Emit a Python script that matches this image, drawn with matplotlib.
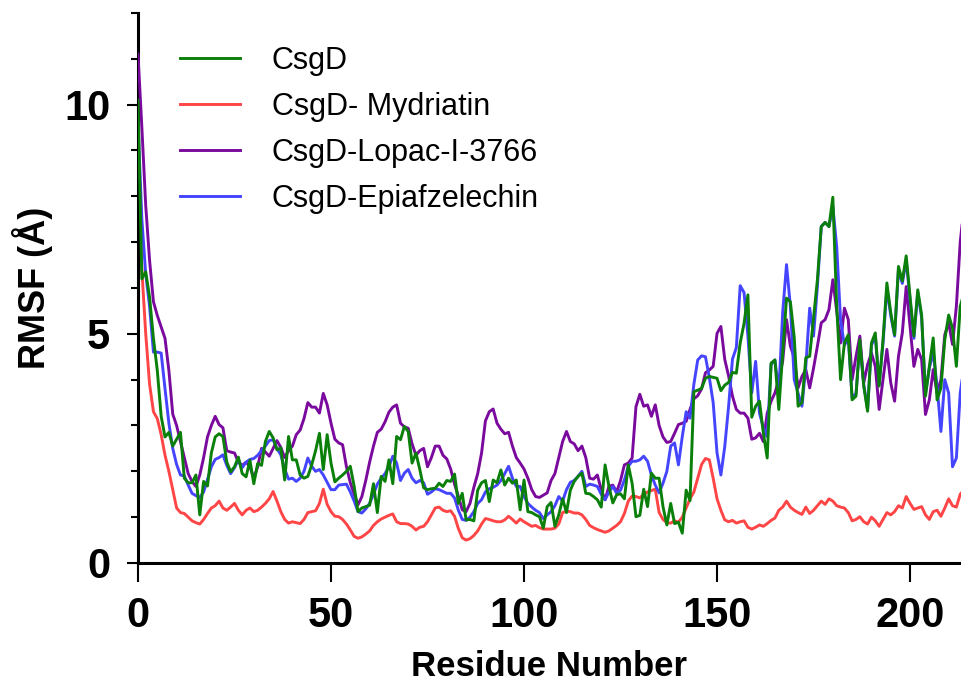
import matplotlib.pyplot as plt
from matplotlib.ticker import MultipleLocator

# RMSF per residue
residues = list(range(215))

csgd = [10.1, 6.2, 6.35, 5.8, 4.9, 4.2, 3.2, 2.75, 2.85, 2.55,
        2.7, 2.85, 1.85, 1.75, 1.75, 1.92, 1.05, 1.78, 1.68, 2.4,
        2.75, 2.82, 2.76, 2.2, 1.99, 2.1, 2.31, 1.95, 1.88, 2.24,
        1.73, 2.17, 2.13, 2.65, 2.87, 2.73, 2.47, 2.51, 1.81, 2.76,
        2.25, 2.25, 1.92, 1.85, 1.89, 2.14, 2.45, 2.83, 2.04, 2.8,
        2.18, 1.77, 1.85, 1.92, 2.0, 2.11, 1.67, 1.12, 1.2, 1.23,
        1.26, 1.73, 1.1, 1.89, 1.78, 2.25, 1.73, 2.76, 2.69, 2.98,
        2.87, 2.18, 2.4, 2.04, 1.64, 1.6, 1.62, 1.63, 1.74, 1.67,
        1.8, 1.78, 1.94, 1.3, 1.52, 0.94, 0.95, 0.92, 1.59, 1.75,
        1.8, 1.34, 1.81, 1.75, 2.03, 1.7, 1.85, 1.74, 1.81, 1.16,
        1.81, 1.12, 1.1, 1.05, 1.01, 0.76, 1.23, 1.32, 0.8, 1.05,
        1.4, 1.1, 1.59, 1.78, 1.89, 1.96, 1.52, 1.51, 1.45, 1.38,
        1.22, 2.14, 1.67, 1.31, 1.49, 1.51, 1.4, 2.14, 1.74, 1.01,
        1.04, 1.61, 1.23, 1.96, 1.85, 1.85, 1.23, 0.83, 1.3, 0.86,
        0.89, 0.65, 1.59, 1.36, 3.74, 3.77, 3.81, 4.03, 4.07, 4.05,
        4.03, 3.76, 3.88, 3.94, 4.16, 4.14, 4.8, 5.23, 5.85, 3.18,
        3.42, 3.53, 2.83, 2.29, 4.36, 4.43, 3.35, 4.55, 5.78, 5.7,
        4.92, 3.42, 3.5, 4.48, 4.51, 5.34, 6.18, 7.34, 7.43, 7.34,
        7.98, 5.6, 4.0, 4.8, 4.98, 3.56, 3.64, 4.87, 3.86, 3.31,
        4.8, 5.02, 3.86, 4.87, 6.11, 5.46, 4.98, 6.47, 6.15, 6.7,
        5.81, 4.95, 5.96, 5.41, 3.64, 4.29, 4.91, 3.56, 3.82, 4.87,
        5.41, 5.12, 4.29, 5.6, 5.9]

mydriatin = [9.0, 6.4, 5.0, 3.9, 3.3, 3.15, 2.8, 2.35, 2.0, 1.6,
             1.2, 1.1, 1.08, 1.0, 0.92, 0.88, 0.85, 0.95, 1.08, 1.2,
             1.25, 1.35, 1.2, 1.15, 1.22, 1.3, 1.15, 1.05, 1.15, 1.2,
             1.12, 1.15, 1.22, 1.3, 1.4, 1.56, 1.35, 1.12, 0.95, 0.87,
             0.9, 0.88, 0.86, 0.95, 1.1, 1.12, 1.14, 1.3, 1.61, 1.28,
             1.12, 1.02, 1.01, 0.95, 0.85, 0.72, 0.58, 0.54, 0.57, 0.63,
             0.7, 0.82, 0.9, 0.96, 1.0, 1.04, 1.07, 0.9, 0.86, 0.86,
             0.85, 0.8, 0.72, 0.78, 0.8, 0.9, 1.05, 1.2, 1.22, 1.15,
             1.12, 1.14, 1.02, 0.75, 0.55, 0.5, 0.53, 0.6, 0.7, 0.85,
             0.97, 0.95, 0.92, 0.9, 0.9, 0.94, 1.02, 0.95, 0.87, 0.96,
             0.9, 0.85, 0.8, 0.82, 0.77, 0.74, 0.74, 0.74, 0.76, 0.85,
             1.1, 1.13, 1.12, 1.09, 1.09, 1.05, 0.95, 0.82, 0.77, 0.73,
             0.7, 0.67, 0.7, 0.76, 0.82, 0.9, 1.08, 1.35, 1.46, 1.45,
             1.42, 1.5, 1.55, 1.58, 1.61, 1.1, 0.95, 0.88, 0.87, 0.92,
             0.89, 1.0, 1.2, 1.4, 1.55, 1.85, 2.15, 2.28, 2.25, 1.85,
             1.4, 1.15, 0.94, 0.9, 0.93, 0.87, 0.9, 0.92, 0.78, 0.74,
             0.78, 0.83, 0.8, 0.86, 0.93, 0.98, 1.15, 1.22, 1.35, 1.22,
             1.15, 1.1, 1.06, 1.22, 1.08, 1.15, 1.25, 1.35, 1.28, 1.4,
             1.35, 1.25, 1.22, 1.2, 1.1, 0.92, 0.95, 1.01, 0.9, 0.85,
             1.0, 0.92, 0.8, 0.95, 1.1, 1.05, 1.12, 1.25, 1.2, 1.45,
             1.3, 1.17, 1.2, 1.23, 1.05, 0.95, 1.12, 1.15, 1.02, 1.2,
             1.4, 1.25, 1.22, 1.5, 1.6]

lopac = [11.1, 9.5, 7.8, 6.6, 5.7, 5.4, 5.15, 4.9, 4.2, 3.25,
         3.0, 2.65, 2.3, 1.95, 1.78, 1.67, 1.92, 2.3, 2.75, 3.0,
         3.2, 3.02, 2.95, 2.45, 2.42, 2.4, 2.2, 2.13, 2.2, 2.1,
         1.85, 2.1, 2.5, 2.42, 2.33, 2.5, 2.67, 2.52, 2.3, 2.45,
         2.55, 2.8, 2.9, 3.15, 3.5, 3.4, 3.4, 3.27, 3.7, 3.45,
         3.05, 2.7, 2.62, 2.58, 2.1, 1.75, 1.5, 1.27, 1.45, 1.8,
         2.2, 2.55, 2.85, 2.92, 3.08, 3.29, 3.4, 3.45, 3.05, 2.97,
         2.94, 2.6, 2.35, 2.45, 2.5, 2.1, 2.3, 2.55, 2.55, 2.35,
         2.27, 2.05, 1.72, 1.45, 1.16, 1.12, 1.3, 1.65, 1.95, 2.4,
         3.1, 3.3, 3.36, 3.05, 2.92, 2.82, 2.85, 2.55, 2.3, 2.18,
         2.05, 1.85, 1.6, 1.45, 1.43, 1.48, 1.53, 1.8, 1.95, 2.3,
         2.65, 2.87, 2.65, 2.6, 2.45, 2.55, 2.3, 1.85, 1.83, 1.92,
         1.6, 1.38, 1.67, 1.7, 1.55, 1.8, 2.14, 2.18, 2.29, 3.41,
         3.68, 3.42, 3.45, 3.2, 3.45, 3.0, 2.75, 2.63, 2.65, 2.83,
         3.02, 3.05, 3.09, 3.35, 3.58, 3.65, 3.8, 4.15, 4.21, 4.29,
         5.01, 5.16, 4.44, 4.08, 3.64, 3.35, 3.27, 3.27, 3.16, 2.7,
         2.73, 2.83, 2.65, 3.27, 3.53, 3.71, 4.0, 4.4, 5.31, 4.73,
         4.48, 3.82, 4.07, 4.22, 3.82, 4.25, 4.73, 5.24, 5.31, 5.53,
         6.18, 5.5, 4.8, 5.56, 5.31, 4.0, 4.51, 4.95, 3.93, 4.33,
         4.58, 4.29, 3.35, 4.0, 4.66, 3.93, 3.53, 4.51, 5.02, 6.03,
         5.16, 4.29, 4.66, 4.44, 3.24, 3.56, 4.22, 3.71, 4.0, 4.98,
         5.24, 4.77, 5.6, 7.0, 7.8]

epiafzelechin = [9.6, 7.5, 6.3, 5.6, 4.6, 4.6, 4.58, 3.8, 3.05, 2.5,
                 2.15, 1.92, 1.9, 1.7, 1.52, 1.47, 1.43, 1.55, 1.82, 2.1,
                 2.26, 2.3, 2.36, 2.13, 1.95, 2.08, 2.25, 2.08, 2.2, 2.26,
                 2.28, 2.35, 2.45, 2.55, 2.67, 2.69, 2.5, 2.36, 2.05, 1.83,
                 1.85, 1.78, 1.85, 2.0, 2.29, 2.11, 2.0, 2.04, 1.92, 1.76,
                 1.6, 1.6, 1.7, 1.71, 1.72, 1.55, 1.35, 1.12, 1.09, 1.18,
                 1.3, 1.5, 1.72, 1.85, 1.95, 2.1, 2.33, 2.18, 1.8, 1.96,
                 2.04, 1.85, 1.75, 1.8, 1.75, 1.5, 1.55, 1.62, 1.6, 1.56,
                 1.52, 1.52, 1.42, 1.15, 0.95, 0.93, 1.0, 1.12, 1.3, 1.38,
                 1.55, 1.62, 1.65, 1.7, 1.8, 1.95, 2.11, 1.85, 1.67, 1.67,
                 1.45, 1.3, 1.22, 1.15, 1.1, 0.97, 1.05, 1.12, 1.25, 1.45,
                 1.35, 1.6, 1.76, 1.8, 1.89, 2.0, 1.67, 1.72, 1.7, 1.67,
                 1.5, 1.38, 1.55, 1.67, 1.52, 1.59, 1.81, 2.11, 2.22, 2.22,
                 2.25, 2.33, 2.22, 1.92, 1.7, 1.53, 1.74, 2.0, 2.55, 2.62,
                 2.14, 2.76, 3.3, 3.16, 3.9, 4.43, 4.52, 4.5, 4.05, 3.5,
                 2.4, 1.92, 2.54, 3.42, 4.45, 4.7, 6.05, 5.9, 4.95, 3.71,
                 4.4, 3.27, 2.95, 2.76, 4.33, 4.43, 3.71, 5.46, 6.51, 5.6,
                 4.0, 3.7, 3.42, 4.29, 5.56, 4.95, 6.04, 7.34, 7.43, 7.34,
                 7.78, 6.9, 5.3, 4.75, 4.9, 3.6, 3.7, 4.8, 3.9, 3.35,
                 4.75, 4.95, 3.9, 4.8, 6.0, 5.4, 4.95, 6.4, 6.1, 6.6,
                 5.75, 4.9, 5.9, 5.35, 3.7, 4.25, 4.6, 3.86, 2.87, 4.0,
                 3.71, 2.1, 2.29, 3.71, 4.3]

plt.rcParams['font.family'] = ['Liberation Sans', 'DejaVu Sans']

fig = plt.figure(figsize=(9.61, 6.83), dpi=100)
ax = fig.add_axes([0.1436, 0.1757, 0.8564, 0.8053])

lw = 2.1
ax.plot(residues, csgd, color='#0a800a', lw=lw, label='CsgD', zorder=5)
ax.plot(residues, mydriatin, color='#ff4545', lw=lw, label='CsgD- Mydriatin', zorder=2)
ax.plot(residues, lopac, color='#7a0a9e', lw=lw, label='CsgD-Lopac-I-3766', zorder=3)
ax.plot(residues, epiafzelechin, color='#4545ff', lw=lw, label='CsgD-Epiafzelechin', zorder=4)

ax.set_xlim(0, 213.2)
ax.set_ylim(0, 12)

ax.spines['top'].set_visible(False)
ax.spines['right'].set_visible(False)
ax.spines['left'].set_linewidth(2.2)
ax.spines['bottom'].set_linewidth(2.2)

ax.xaxis.set_major_locator(MultipleLocator(50))
ax.yaxis.set_major_locator(MultipleLocator(5))
ax.yaxis.set_minor_locator(MultipleLocator(1))
ax.tick_params(axis='x', which='major', direction='out', length=14, width=1.5, pad=10)
ax.tick_params(axis='y', which='major', direction='out', length=8, width=1.5, pad=12)
ax.tick_params(axis='y', which='minor', direction='out', length=5, width=1.5)
for lab in ax.get_xticklabels() + ax.get_yticklabels():
    lab.set_fontsize(30)
    lab.set_fontweight('bold')

ax.set_xlabel('Residue Number', fontsize=25, fontweight='bold', labelpad=10)
ax.set_ylabel('RMSF (Å)', fontsize=26, fontweight='bold', labelpad=8)

ax.legend(loc='upper left', bbox_to_anchor=(0.051, 0.94), frameon=False,
          fontsize=22, handlelength=1.96, handletextpad=1.05, labelspacing=0.52,
          borderpad=0, borderaxespad=0)

fig.savefig('out.png', dpi=100)
